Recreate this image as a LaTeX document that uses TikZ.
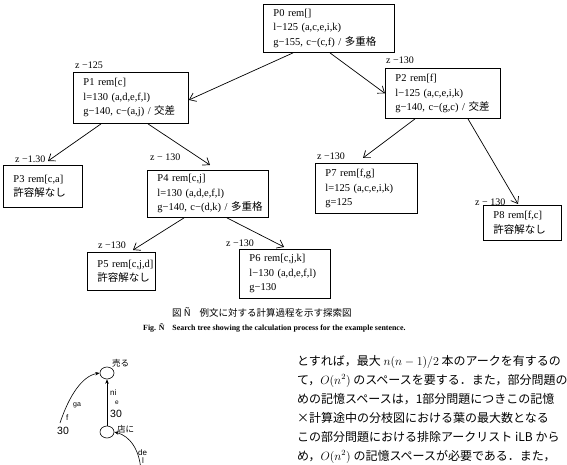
\documentclass[tikz,border=0pt]{standalone}
\usepackage{fontspec}
\setmainfont{Liberation Serif}
\newfontfamily\jp{Noto Sans CJK JP}
\newfontfamily\sansf{Liberation Sans}
\usetikzlibrary{arrows.meta,shapes.geometric}
\newcommand\bl[1]{\mbox{#1}}

\begin{document}
\begin{tikzpicture}[x=1pt,y=-1pt,
  stbox/.style={draw, line width=0.9pt, anchor=north west, align=left,
    inner xsep=10pt, inner ysep=0pt,
    font=\fontsize{10.5}{14.5}\selectfont},
  zlab/.style={anchor=base west, inner sep=0pt, font=\fontsize{10}{12}\selectfont},
  tree/.style={line width=0.7pt, -{Straight Barb[length=6pt,width=9pt]}},
  vert/.style={draw, ellipse, minimum width=14pt, minimum height=12pt, inner sep=0pt, line width=0.6pt},
  garc/.style={line width=0.6pt, -{Stealth[length=4.5pt,width=3.5pt]}},
  glab/.style={anchor=base west, inner sep=0pt, font=\sansf\fontsize{8}{9}\selectfont},
  body/.style={anchor=base west, inner sep=0pt, font=\jp\fontsize{12}{19}\selectfont},
]
\clip (0,0) rectangle (567,465);
\fill[white] (0,0) rectangle (567,465);

% ---- search tree: subproblem boxes ----
\node[stbox, text width=111pt, minimum height=48pt] (p0) at (263,4)
  {\bl{P0 rem[]}\\ \bl{l−125 (a,c,e,i,k)}\\ \bl{g−155, c−(c,f) / {\jp 多重格}}};
\node[stbox, text width=95pt, minimum height=51pt] (p1) at (73,72)
  {\bl{P1 rem[c]}\\ \bl{l=130 (a,d,e,f,l)}\\ \bl{g−140, c−(a,j) / {\jp 交差}}};
\node[stbox, text width=95pt, minimum height=50pt] (p2) at (385,68)
  {\bl{P2 rem[f]}\\ \bl{l−125 (a,c,e,i,k)}\\ \bl{g−140, c−(g,c) / {\jp 交差}}};
\node[stbox, text width=59pt, minimum height=42pt] (p3) at (3,165)
  {\bl{P3 rem[c,a]}\\ \bl{\jp 許容解なし}};
\node[stbox, text width=101pt, minimum height=47pt] (p4) at (147,170)
  {\bl{P4 rem[c,j]}\\ \bl{l=130 (a,d,e,f,l)}\\ \bl{g−140, c−(d,k) / {\jp 多重格}}};
\node[stbox, text width=82pt, minimum height=50pt] (p7) at (315,163)
  {\bl{P7 rem[f,g]}\\ \bl{l=125 (a,c,e,i,k)}\\ \bl{g=125}};
\node[stbox, text width=58pt, minimum height=35pt] (p8) at (483,205)
  {\bl{P8 rem[f,c]}\\ \bl{\jp 許容解なし}};
\node[stbox, text width=48pt, minimum height=38pt] (p5) at (87,252)
  {\bl{P5 rem[c,j,d]}\\ \bl{\jp 許容解なし}};
\node[stbox, text width=71pt, minimum height=49pt] (p6) at (239,249)
  {\bl{P6 rem[c,j,k]}\\ \bl{l−130 (a,d,e,f,l)}\\ \bl{g−130}};

% ---- bound labels ----
\node[zlab] (z1) at (75,69) {z −125};
\node[zlab] (z2) at (386,64) {z −130};
\node[zlab] (z3) at (15,163) {z −1.30};
\node[zlab] (z4) at (150,161) {z − 130};
\node[zlab] (z7) at (317,160) {z −130};
\node[zlab] (z8) at (475,205) {z − 130};
\node[zlab] (z5) at (98,248) {z −130};
\node[zlab] (z6) at (226,246) {z −130};

% ---- branches ----
\draw[tree] ([xshift=30pt]p0.south west) -- ([yshift=-2pt]p1.east);
\draw[tree] ([xshift=67pt]p0.south west) -- (p2.west);
\draw[tree] ([xshift=28pt]p1.south west) -- ([xshift=45pt,yshift=4pt]p3.north west);
\draw[tree] ([xshift=75pt]p1.south west) -- ([xshift=63pt,yshift=5pt]p4.north west);
\draw[tree] ([xshift=30pt]p2.south west) -- ([xshift=48pt,yshift=5pt]p7.north west);
\draw[tree] ([xshift=83pt]p2.south west) -- ([xshift=35pt,yshift=1pt]p8.north west);
\draw[tree] ([xshift=37pt]p4.south west) -- ([xshift=46pt,yshift=2pt]p5.north west);
\draw[tree] ([xshift=80pt]p4.south west) -- ([xshift=45pt,yshift=2pt]p6.north west);

% ---- caption ----
\node[anchor=base west, inner sep=0pt, font=\jp\fontsize{9.5}{11}\selectfont] (cap1) at (172,316)
  {図 Ñ\hspace{9pt}例文に対する計算過程を示す探索図};
\node[anchor=base west, inner sep=0pt, font=\bfseries\fontsize{7.9}{9}\selectfont] (cap2) at (143,330)
  {Fig. Ñ\hspace{6pt} Search tree showing the calculation process for the example sentence.};

% ---- dependency graph fragment ----
\node[vert] (uru) at (107,373) {};
\node[vert] (mise) at (107,432) {};
\node[anchor=base west, inner sep=0pt, font=\jp\fontsize{8.5}{10}\selectfont] (uruL) at (112,366) {売る};
\node[anchor=base west, inner sep=0pt, font=\jp\fontsize{8.5}{10}\selectfont] (miseL) at (117,432) {店に};
\draw[garc] (mise) -- (uru);
\node[glab] (l1) at (110,395) {ni};
\node[glab, font=\sansf\fontsize{6.5}{8}\selectfont] (l2) at (115,404) {e};
\node[glab, font=\sansf\fontsize{10.5}{12}\selectfont] (l3) at (110,417) {30};
\coordinate (ga0) at (60,423);
\draw[garc] (ga0) .. controls (69,396) and (82,376) .. (uru.west);
\node[glab, font=\sansf\fontsize{7}{8}\selectfont] (l4) at (73,406) {ga};
\node[glab] (l5) at (66,420) {f};
\node[glab, font=\sansf\fontsize{10.5}{12}\selectfont] (l6) at (57,434) {30};
\coordinate (de0) at (141,472);
\draw[garc] (de0) .. controls (140,450) and (130,436) .. (mise.east);
\node[glab] (l7) at (138,455) {de};
\node[glab] (l8) at (142,463) {l};

% ---- body text ----
\node[body] (t1) at (297,365) {とすれば，最大 $n(n-1)/2$ 本のアークを有するの};
\node[body] (t2) at (297,384) {て，$O(n^2)$ のスペースを要する．また，部分問題の};
\node[body] (t3) at (297,403) {めの記憶スペースは，1部分問題につきこの記憶};
\node[body] (t4) at (297,422) {×計算途中の分枝図における葉の最大数となる};
\node[body] (t5) at (297,441) {この部分問題における排除アークリスト iLB から};
\node[body] (t6) at (297,460) {め，$O(n^2)$ の記憶スペースが必要である．また，};
\end{tikzpicture}
\end{document}
